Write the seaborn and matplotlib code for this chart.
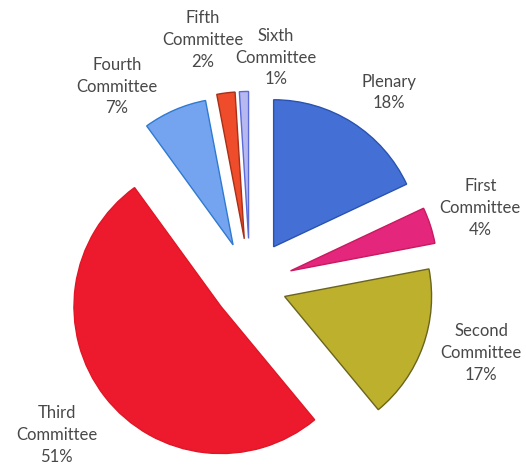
import numpy as np
import matplotlib
matplotlib.use("Agg")
import matplotlib.pyplot as plt
import seaborn as sns

# Share of resolutions by main committee
categories = ["Plenary", "First\nCommittee", "Second\nCommittee", "Third\nCommittee",
              "Fourth\nCommittee", "Fifth\nCommittee", "Sixth\nCommittee"]
shares = [18, 4, 17, 51, 7, 2, 1]

# Styling
face_colors = ["#4470d6", "#e4267c", "#bcb02c", "#ec1a2c", "#74a4f0", "#ee4c2a", "#b8b8f0"]
edge_colors = ["#2a52b0", "#c81a60", "#6a6420", "#e01626", "#2f7ad0", "#a83018", "#5a6ad8"]
explode = [0.30, 0.29, 0.25, 0.25, 0.29, 0.31, 0.31]
# label anchors around the pie: (radius from pie centre, angle in degrees)
label_anchor = [(1.61, 54), (1.65, 18.3), (1.64, -16.6), (1.67, -142),
                (1.62, 124), (1.69, 101), (1.55, 83.5)]

sns.set_theme(style="white")
plt.rcParams["font.family"] = ["Lato", "DejaVu Sans"]

fig = plt.figure(figsize=(5.26, 4.66), dpi=100)
ax = fig.add_axes([0, 0, 1, 1])

wedges, _ = ax.pie(shares, startangle=90, counterclock=False, explode=explode,
                   colors=face_colors, radius=1.0, center=(0, 0),
                   wedgeprops=dict(linewidth=1.0))
for w, ec in zip(wedges, edge_colors):
    w.set_edgecolor(ec)

for cat, val, (r, ang) in zip(categories, shares, label_anchor):
    a = np.deg2rad(ang)
    ax.text(r * np.cos(a), r * np.sin(a), f"{cat}\n{val}%", ha="center", va="center",
            fontsize=12, color="#484848", linespacing=1.45)

ax.set_xlim(-250 / 147, 276 / 147)
ax.set_ylim(-182 / 147, 284 / 147)
ax.set_aspect("equal")
ax.axis("off")

fig.savefig("out.png", dpi=100, facecolor="white")
